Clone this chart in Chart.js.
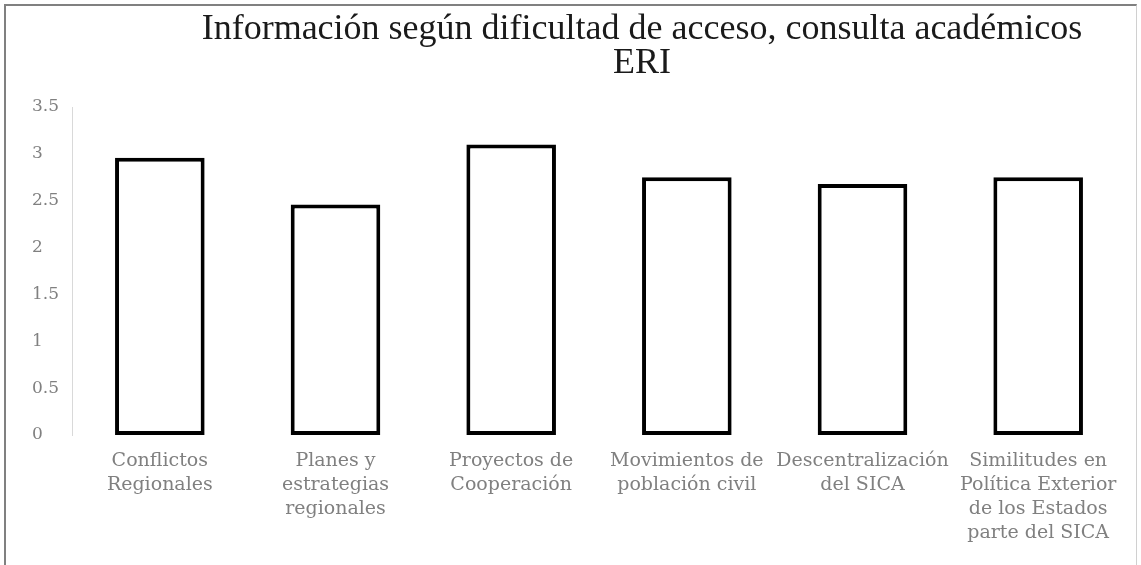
<!DOCTYPE html>
<html>
<head>
<meta charset="utf-8">
<script src="https://cdn.jsdelivr.net/npm/chart.js@4"></script>
<style>
	html, body { margin: 0; padding: 0; background: #fff; }
	#wrap { position: relative; width: 1141px; height: 565px; overflow: hidden; }
	#frame { position: absolute; left: 4px; top: 4px; width: 1130px; height: 600px;
		border-left: 2px solid #808080; border-top: 2px solid #808080; border-right: 1px solid #d0d0d0; }
	canvas { position: absolute; left: 0; top: 0; }
</style>
</head>
<body>
<div id="wrap">
	<div id="frame"></div>
	<canvas id="chart" width="1141" height="565"></canvas>
</div>
<script>
const categories = [
	["Conflictos", "Regionales"],
	["Planes y", "estrategias", "regionales"],
	["Proyectos de", "Cooperación"],
	["Movimientos de", "población civil"],
	["Descentralización", "del SICA"],
	["Similitudes en", "Política Exterior", "de los Estados", "parte del SICA"]
];
const values = [2.96, 2.46, 3.10, 2.75, 2.68, 2.75];
const titleLines = ["Información según dificultad de acceso, consulta académicos", "ERI"];

const xTickFont = { family: "'DejaVu Serif', serif", size: 19, lineHeight: 1.27 };
const yTickFont = { family: "'DejaVu Serif', serif", size: 17 };
const tickColor = '#808080';

// the source centres its title a bit right of the canvas middle
const titleShift = {
	id: 'titleShift',
	afterLayout(chart) {
		const t = chart.titleBlock;
		if (t) { t.left += 63; t.right += 63; }
	}
};

new Chart(document.getElementById("chart"), {
	type: 'bar',
	data: {
		labels: categories,
		datasets: [{
			data: values,
			backgroundColor: '#ffffff',
			borderColor: '#000000',
			borderWidth: 4,
			borderSkipped: false,
			categoryPercentage: 1,
			barPercentage: 0.51
		}]
	},
	options: {
		responsive: false,
		animation: false,
		layout: { padding: { left: 32, right: 15, top: 13, bottom: 0 } },
		plugins: {
			legend: { display: false },
			tooltip: { enabled: false },
			title: {
				display: true,
				text: titleLines,
				color: '#1a1a1a',
				font: { family: "'Liberation Serif', serif", size: 36, weight: 'normal', lineHeight: 0.945 },
				padding: { top: 0, bottom: 26 }
			}
		},
		scales: {
			x: {
				grid: { display: false, drawTicks: false },
				border: { display: false },
				ticks: { color: tickColor, font: xTickFont, padding: 14, maxRotation: 0, autoSkip: false },
				afterFit: s => { s.height = 130; }
			},
			y: {
				min: 0,
				max: 3.5,
				grid: { display: false, drawTicks: false },
				border: { display: true, color: '#d9d9d9', width: 1 },
				ticks: { stepSize: 0.5, color: tickColor, font: yTickFont, crossAlign: 'far', padding: 4,
					callback: v => String(v) },
				afterFit: s => { s.width = 40; }
			}
		}
	},
	plugins: [titleShift]
});
</script>
</body>
</html>
